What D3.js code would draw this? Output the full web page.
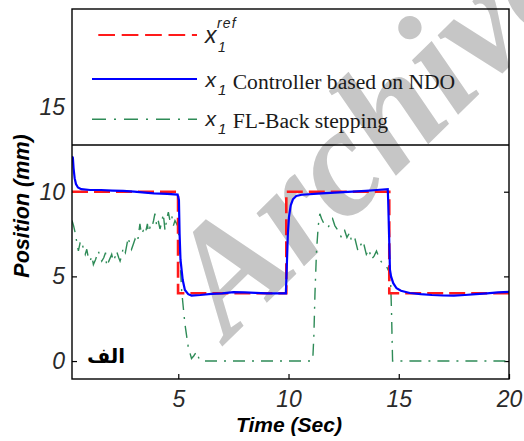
<!DOCTYPE html>
<html><head><meta charset="utf-8">
<script src="https://cdn.jsdelivr.net/npm/d3@7/dist/d3.min.js"></script>
<style>body{margin:0;background:#fff}</style>
</head><body>
<svg id="c" width="524" height="441"></svg>
<script>
// ---------- data ----------
const xTicks = [5, 10, 15, 20];
const yTicks = [0, 5, 10, 15];
const xDomain = [0.18, 20];
const yDomain = [-1.06, 20.79];

// reference x1^ref (step)
const refT = [0.18, 4.99, 4.99, 9.9, 9.9, 14.57, 14.57, 20];
const refV = [10, 10, 4, 4, 10, 10, 4, 4];

// x1 Controller based on NDO
const ndoT = [0.18, 0.22, 0.25, 0.3, 0.36, 0.45, 0.6, 1.0, 1.5, 2.0, 2.5, 3.0, 3.5, 3.9, 4.5, 4.97,
  5.03, 5.06, 5.1, 5.2, 5.3, 5.45, 5.6, 6.0, 6.5, 7.0, 7.5, 8.0, 8.5, 9.0, 9.5, 9.88,
  9.92, 9.97, 10.02, 10.1, 10.2, 10.35, 10.6, 11.5, 12.5, 13.5, 14.0, 14.5,
  14.52, 14.56, 14.6, 14.65, 14.75, 14.9, 15.1, 15.5, 16.0, 16.5, 17.0, 17.5, 18.0, 18.5, 19.0, 19.5, 20.0];
const ndoV = [12.1, 12.0, 11.4, 10.8, 10.45, 10.25, 10.15, 10.1, 10.1, 10.07, 10.05, 10.0, 9.95, 9.9, 9.87, 9.83,
  9.5, 7.5, 6.0, 4.8, 4.2, 3.95, 3.87, 3.9, 3.97, 4.0, 4.07, 4.05, 4.03, 4.0, 4.0, 4.0,
  5.5, 7.5, 8.5, 9.2, 9.55, 9.75, 9.82, 9.9, 9.97, 10.05, 10.1, 10.15,
  9.5, 7.5, 5.4, 5.0, 4.6, 4.3, 4.15, 4.02, 3.95, 3.9, 3.87, 3.86, 3.9, 3.95, 4.0, 4.05, 4.08];

// x1 FL-Back stepping
const flbT = [0.18, 0.25, 0.32, 0.4, 0.47, 0.55, 0.62, 0.7, 0.78, 0.85, 0.92, 1.0, 1.08, 1.15, 1.25, 1.37,
  1.45, 1.53, 1.62, 1.7, 1.75, 1.85, 1.98, 2.05, 2.15, 2.2, 2.3, 2.36, 2.45, 2.5, 2.6, 2.73,
  2.8, 2.88, 2.96, 3.04, 3.15, 3.26, 3.33, 3.41, 3.5, 3.6, 3.64, 3.72, 3.79, 3.88, 3.94, 4.02,
  4.09, 4.17, 4.25, 4.32, 4.4, 4.48, 4.55, 4.62, 4.7, 4.78, 4.85, 4.93, 5.0, 5.1, 5.15, 5.3,
  5.45, 5.6, 5.7, 5.83, 5.95, 6.1, 11.0, 11.1, 11.15, 11.2, 11.27, 11.35, 11.42, 11.5, 11.65, 11.8,
  12.0, 12.1, 12.25, 12.4, 12.55, 12.65, 12.78, 12.85, 13.0, 13.15, 13.25, 13.38, 13.53, 13.65, 13.76, 13.88,
  13.99, 14.14, 14.29, 14.44, 14.55, 14.62, 14.67, 14.72, 20];
const flbV = [8.3, 8.0, 7.6, 7.0, 6.5, 7.0, 7.1, 6.6, 6.3, 6.6, 6.1, 5.9, 6.2, 5.7, 6.0, 6.5,
  6.2, 5.9, 6.1, 6.4, 5.6, 5.9, 6.3, 5.9, 6.2, 6.5, 6.1, 5.9, 6.3, 6.7, 6.4, 7.3,
  6.9, 6.6, 6.9, 7.2, 7.0, 8.1, 7.5, 7.7, 7.5, 8.1, 7.6, 7.9, 7.8, 8.3, 8.7, 8.0,
  8.3, 7.8, 8.2, 8.7, 7.7, 8.4, 8.8, 8.3, 8.6, 8.0, 8.3, 8.1, 7.9, 5.5, 4.2, 2.2,
  0.85, 0.15, 0.3, 0.55, 0.1, 0, 0, 0.1, 1.5, 4.0, 6.5, 8.0, 8.7, 8.4, 8.0, 7.9,
  8.4, 8.0, 7.7, 7.3, 7.7, 7.3, 7.6, 7.1, 7.3, 6.5, 6.8, 7.1, 6.3, 6.6, 6.0, 6.2,
  6.5, 6.0, 5.7, 5.6, 5.3, 5.2, 3.0, 0, 0];

const seriesLabels = ["Controller based on NDO", "FL-Back stepping"];
const xTitle = "Time (Sec)";
const yTitle = "Position (mm)";
const panelLabel = "الف";
const watermark = "Archive";

// ---------- drawing ----------
const svg = d3.select("#c");
const L = 72, R = 509, T = 9, B = 379, LEGB = 145;
const x = d3.scaleLinear().domain(xDomain).range([L, R]);
const y = d3.scaleLinear().domain(yDomain).range([B, T]);

svg.append("rect").attr("width", 524).attr("height", 441).attr("fill", "#fff");

const defs = svg.append("defs");
defs.append("clipPath").attr("id", "clip")
  .append("rect").attr("x", L).attr("y", T).attr("width", R - L).attr("height", B - T);
defs.append("clipPath").attr("id", "page")
  .append("rect").attr("x", 0).attr("y", 0).attr("width", 524).attr("height", 441);

// legend box background
svg.append("rect").attr("x", L).attr("y", T).attr("width", R - L).attr("height", LEGB - T)
  .attr("fill", "#fff");

// watermark (runs off the page edge, as in the reference), drawn beneath marks and text
svg.append("g").attr("clip-path", "url(#page)")
  .append("text").attr("transform", "translate(228,341) rotate(-44.5)")
  .attr("font-family", "'Liberation Serif', 'Times New Roman', serif").attr("font-weight", "bold")
  .attr("font-style", "italic").attr("font-size", 155).attr("fill", "#c6c6c6")
  .text(watermark);

// axes
const tickFont = "'Liberation Sans', Arial, sans-serif";
const gx = svg.append("g").attr("transform", `translate(0,${B})`)
  .call(d3.axisBottom(x).tickValues(xTicks).tickSize(-5).tickPadding(11.5));
const gy = svg.append("g").attr("transform", `translate(${L},0)`)
  .call(d3.axisLeft(y).tickValues(yTicks.filter(v => v < 15)).tickSize(-5).tickPadding(7));
const gy15 = svg.append("g").attr("transform", `translate(${L},0)`)
  .call(d3.axisLeft(y).tickValues(yTicks.filter(v => v >= 15)).tickSize(0).tickPadding(7));
const gr = svg.append("g").attr("transform", `translate(${R},0)`)
  .call(d3.axisRight(y).tickValues(yTicks.filter(v => v < 15)).tickSize(-5).tickFormat(""));
[gx, gy, gy15, gr].forEach(g => {
  g.select(".domain").remove();
  g.selectAll(".tick line").attr("stroke", "#000").attr("stroke-width", 1.2);
  g.selectAll(".tick text").attr("font-family", tickFont).attr("font-style", "italic")
    .attr("font-size", 23).attr("fill", "#2a2a2a");
});

const line = d3.line().x(d => x(d[0])).y(d => y(d[1]));
const plot = svg.append("g").attr("clip-path", "url(#clip)");

plot.append("path").datum(flbT.map((t, i) => [t, flbV[i]]))
  .attr("d", line).attr("fill", "none").attr("stroke", "#2e8b57").attr("stroke-width", 1.4)
  .attr("stroke-dasharray", "12,7,2,7");
plot.append("path").datum(refT.map((t, i) => [t, refV[i]]))
  .attr("d", line).attr("fill", "none").attr("stroke", "#ff1a1a").attr("stroke-width", 2.6)
  .attr("stroke-dasharray", "16,6");
plot.append("path").datum(ndoT.map((t, i) => [t, ndoV[i]]))
  .attr("d", line).attr("fill", "none").attr("stroke", "#0000ff").attr("stroke-width", 2.2);

// frame and legend border
svg.append("rect").attr("x", L).attr("y", T).attr("width", R - L).attr("height", B - T)
  .attr("fill", "none").attr("stroke", "#000").attr("stroke-width", 1.4);
svg.append("line").attr("x1", L).attr("x2", R).attr("y1", LEGB).attr("y2", LEGB)
  .attr("stroke", "#000").attr("stroke-width", 1.4);

const lg = svg.append("g");
lg.append("line").attr("x1", 98.3).attr("x2", 197).attr("y1", 35).attr("y2", 35)
  .attr("stroke", "#ff1a1a").attr("stroke-width", 2).attr("stroke-dasharray", "16.7,6.7");
lg.append("line").attr("x1", 92).attr("x2", 197).attr("y1", 79).attr("y2", 79)
  .attr("stroke", "#0000ff").attr("stroke-width", 2);
lg.append("line").attr("x1", 92).attr("x2", 197).attr("y1", 119.3).attr("y2", 119.3)
  .attr("stroke", "#2e8b57").attr("stroke-width", 1.4).attr("stroke-dasharray", "14,8,2,8");

const symFont = "'Liberation Sans', Arial, sans-serif";
// x1^ref
lg.append("text").attr("x", 205).attr("y", 42.7).attr("font-family", symFont).attr("font-style", "italic")
  .attr("font-size", 23).attr("fill", "#222").text("x");
lg.append("text").attr("x", 217).attr("y", 28.3).attr("font-family", symFont).attr("font-style", "italic")
  .attr("font-size", 14).attr("letter-spacing", 1.2).attr("fill", "#222").text("ref");
lg.append("text").attr("x", 218).attr("y", 51.5).attr("font-family", symFont).attr("font-style", "italic")
  .attr("font-size", 14).attr("fill", "#222").text("1");

[[87.3, 95, 89.3], [126.3, 134, 128.3]].forEach((p, i) => {
  lg.append("text").attr("x", 205.5).attr("y", p[0]).attr("font-family", symFont).attr("font-style", "italic")
    .attr("font-size", 21).attr("fill", "#222").text("x");
  lg.append("text").attr("x", 218).attr("y", p[1]).attr("font-family", symFont).attr("font-style", "italic")
    .attr("font-size", 15).attr("fill", "#222").text("1");
  lg.append("text").attr("x", 232.7).attr("y", p[2]).attr("font-family", "'Liberation Serif', 'Times New Roman', serif")
    .attr("font-size", 21.6).attr("fill", "#1a1a1a").text(seriesLabels[i]);
});

// axis titles
svg.append("text").attr("x", 289).attr("y", 432).attr("text-anchor", "middle")
  .attr("font-family", "'Liberation Sans', Arial, sans-serif").attr("font-weight", "bold").attr("font-style", "italic")
  .attr("font-size", 21).attr("fill", "#000").text(xTitle);
svg.append("text").attr("transform", "translate(29,206) rotate(-90)").attr("text-anchor", "middle")
  .attr("font-family", "'Liberation Sans', Arial, sans-serif").attr("font-weight", "bold").attr("font-style", "italic")
  .attr("font-size", 21.5).attr("fill", "#000").text(yTitle);

// panel label
svg.append("text").attr("x", 106).attr("y", 363).attr("text-anchor", "middle")
  .attr("font-family", "'DejaVu Sans', sans-serif").attr("font-weight", "bold")
  .attr("font-size", 20).attr("fill", "#000").text(panelLabel);
</script>
</body></html>
